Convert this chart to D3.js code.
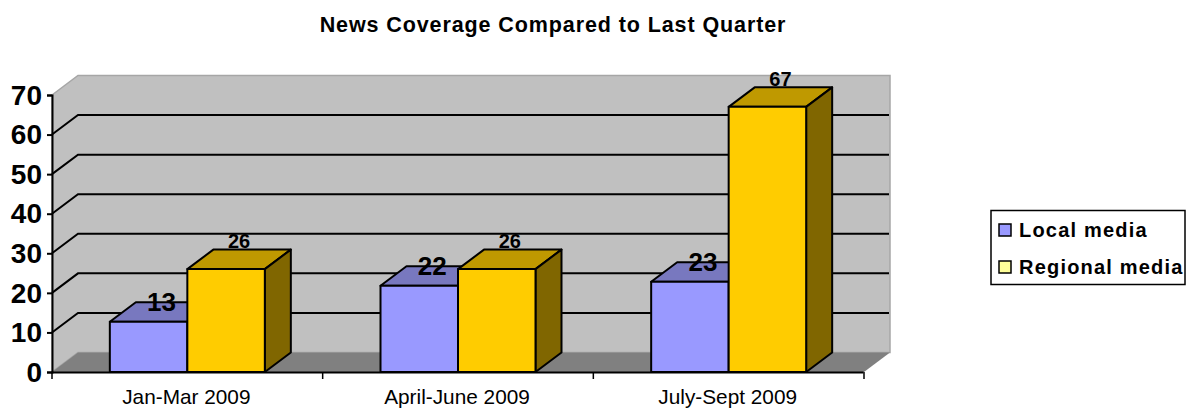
<!DOCTYPE html>
<html>
<head>
<meta charset="utf-8">
<script src="https://cdn.jsdelivr.net/npm/d3@7"></script>
<style>
  html, body { margin: 0; padding: 0; background: #fff; }
  svg { display: block; }
  text { font-family: "Liberation Sans", Arial, sans-serif; fill: #000; }
</style>
</head>
<body>
<div id="chart"></div>
<script>
const categories = ['Jan-Mar 2009', 'April-June 2009', 'July-Sept 2009'];
const seriesNames = ['Local media', 'Regional media'];
// Bar heights as drawn, the local bars sit a little under their labels
const localDrawn = [12.7, 21.8, 22.8];
const regionalDrawn = [26, 26, 67];
const localLabels = [13, 22, 23];
const regionalLabels = [26, 26, 67];
const yTicks = [0, 10, 20, 30, 40, 50, 60, 70];

const svg = d3.select('#chart').append('svg')
  .attr('width', 1189)
  .attr('height', 410);

// Plot box of the front plane, the walls are pushed back by depth
const plot = { left: 52, right: 864, top: 95, bottom: 372 };
const depth = { x: 26, y: -19.5 };

const band = d3.scaleBand().domain(categories).range([plot.left, plot.right]);
const barWidth = 77.5;
const y = d3.scaleLinear().domain([0, 70]).range([plot.bottom, plot.top]);

// Title
svg.append('text')
  .attr('x', 553)
  .attr('y', 32)
  .attr('text-anchor', 'middle')
  .attr('font-size', '21.5px')
  .attr('font-weight', 'bold')
  .attr('letter-spacing', '0.9px')
  .text('News Coverage Compared to Last Quarter');

const poly = pts => 'M' + pts.map(p => p.join(',')).join('L') + 'Z';

// Back wall and side wall
svg.append('path')
  .attr('d', poly([
    [plot.left, y(70)],
    [plot.left + depth.x, y(70) + depth.y],
    [plot.right + depth.x, y(70) + depth.y],
    [plot.right + depth.x, y(0) + depth.y],
    [plot.left + depth.x, y(0) + depth.y],
    [plot.left, y(0)]
  ]))
  .attr('fill', '#c0c0c0')
  .attr('stroke', '#a6a6a6')
  .attr('stroke-width', 1.5);

// Floor
svg.append('path')
  .attr('d', poly([
    [plot.left, y(0)],
    [plot.left + depth.x, y(0) + depth.y],
    [plot.right + depth.x, y(0) + depth.y],
    [plot.right, y(0)]
  ]))
  .attr('fill', '#808080');

// Gridlines with the diagonal on the side wall
svg.append('g')
  .selectAll('path')
  .data(yTicks.filter(d => d > 0 && d < 70))
  .enter()
  .append('path')
  .attr('d', d => `M${plot.left},${y(d)}L${plot.left + depth.x},${y(d) + depth.y}L${plot.right + depth.x - 1},${y(d) + depth.y}`)
  .attr('fill', 'none')
  .attr('stroke', '#000')
  .attr('stroke-width', 2);

// 3D bars, one series on top of the other
function drawBars(values, offset, colors) {
  const g = svg.append('g');
  categories.forEach((c, i) => {
    const left = band(c) + band.bandwidth() / 2 + offset * barWidth;
    const right = left + barWidth;
    const top = y(values[i]);
    const bottom = y(0);
    const shapes = [
      { fill: colors.top, pts: [[left, top], [left + depth.x, top + depth.y], [right + depth.x, top + depth.y], [right, top]] },
      { fill: colors.side, pts: [[right, top], [right + depth.x, top + depth.y], [right + depth.x, bottom + depth.y], [right, bottom]] },
      { fill: colors.front, pts: [[left, top], [right, top], [right, bottom], [left, bottom]] }
    ];
    g.selectAll(null)
      .data(shapes)
      .enter()
      .append('path')
      .attr('d', d => poly(d.pts))
      .attr('fill', d => d.fill)
      .attr('stroke', '#000')
      .attr('stroke-width', 2)
      .attr('stroke-linejoin', 'round');
  });
}

drawBars(localDrawn, -1, { front: '#9999ff', top: '#7878bf', side: '#5c5c99' });
drawBars(regionalDrawn, 0, { front: '#ffcc00', top: '#bf9900', side: '#806600' });

// Data labels, the local ones are set larger in the reference
svg.append('g')
  .selectAll('text')
  .data(localLabels)
  .enter()
  .append('text')
  .attr('x', (d, i) => band(categories[i]) + band.bandwidth() / 2 - barWidth / 2 + 13)
  .attr('y', (d, i) => y(localDrawn[i]) - 11)
  .attr('text-anchor', 'middle')
  .attr('font-size', '26px')
  .attr('font-weight', 'bold')
  .text(d => d);

svg.append('g')
  .selectAll('text')
  .data(regionalLabels)
  .enter()
  .append('text')
  .attr('x', (d, i) => band(categories[i]) + band.bandwidth() / 2 + barWidth / 2 + 13)
  .attr('y', (d, i) => y(regionalDrawn[i]) - 21)
  .attr('text-anchor', 'middle')
  .attr('font-size', '20px')
  .attr('font-weight', 'bold')
  .text(d => d);

// Axes
const yAxis = svg.append('g')
  .attr('transform', `translate(${plot.left},0)`)
  .call(d3.axisLeft(y).tickValues(yTicks).tickSize(5).tickPadding(5));
yAxis.selectAll('path, line').attr('stroke', '#000').attr('stroke-width', 2);
yAxis.selectAll('text')
  .attr('font-size', '28px')
  .attr('font-weight', 'bold')
  .attr('font-family', '"Liberation Sans", Arial, sans-serif')
  .attr('dy', '0.33em');

const tickPos = [plot.left, ...categories.map(c => band(c) + band.bandwidth())];
const xAxis = svg.append('g')
  .attr('transform', `translate(-1,${plot.bottom})`)
  .call(d3.axisBottom(band).tickSize(0).tickPadding(17));
xAxis.select('path').attr('stroke', '#000').attr('stroke-width', 2);
xAxis.selectAll('text')
  .attr('font-size', '20.8px')
  .attr('font-family', '"Liberation Sans", Arial, sans-serif');
xAxis.selectAll('line.edge')
  .data(tickPos)
  .enter()
  .append('line')
  .attr('class', 'edge')
  .attr('x1', d => d + 1)
  .attr('x2', d => d + 1)
  .attr('y1', 0)
  .attr('y2', 7)
  .attr('stroke', '#000')
  .attr('stroke-width', 1.5);

// Legend
const legendColors = ['#9999ff', '#ffff99'];
const legend = svg.append('g');
legend.append('rect')
  .attr('x', 991)
  .attr('y', 210.5)
  .attr('width', 194)
  .attr('height', 74)
  .attr('fill', '#fff')
  .attr('stroke', '#000')
  .attr('stroke-width', 1.5);
const items = legend.selectAll('.legend-item')
  .data(seriesNames)
  .enter()
  .append('g')
  .attr('class', 'legend-item')
  .attr('transform', (d, i) => `translate(999,${224 + i * 37})`);
items.append('rect')
  .attr('width', 12)
  .attr('height', 12)
  .attr('fill', (d, i) => legendColors[i])
  .attr('stroke', '#000')
  .attr('stroke-width', 1.5);
items.append('text')
  .attr('x', 20)
  .attr('y', 13)
  .attr('font-size', '20px')
  .attr('font-weight', 'bold')
  .attr('letter-spacing', '1.2px')
  .text(d => d);
</script>
</body>
</html>
